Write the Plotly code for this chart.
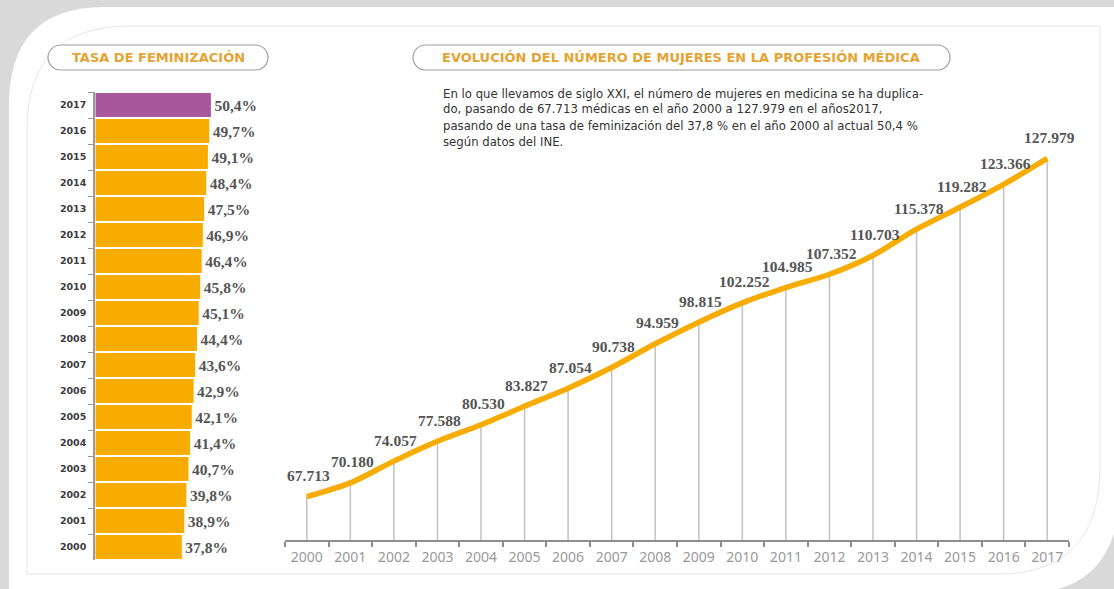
import plotly.graph_objects as go

W, H = 1114, 589

# ---------------- data ----------------
years = [str(y) for y in range(2000, 2018)]
tasa_feminizacion = [37.8, 38.9, 39.8, 40.7, 41.4, 42.1, 42.9, 43.6, 44.4, 45.1,
                     45.8, 46.4, 46.9, 47.5, 48.4, 49.1, 49.7, 50.4]
mujeres_medicas = [67713, 70180, 74057, 77588, 80530, 83827, 87054, 90738, 94959,
                   98815, 102252, 104985, 107352, 110703, 115378, 119282, 123366, 127979]

title_left = "TASA DE FEMINIZACIÓN"
title_right = "EVOLUCIÓN DEL NÚMERO DE MUJERES EN LA PROFESIÓN MÉDICA"
paragraph_lines = [
    "En lo que llevamos de siglo XXI, el número de mujeres en medicina se ha duplica-",
    "do, pasando de 67.713 médicas en el año 2000 a 127.979 en el años2017,",
    "pasando de una tasa de feminización del 37,8 % en el año 2000 al actual 50,4 %",
    "según datos del INE.",
]

ORANGE = "#F8AC00"
PURPLE = "#A8579C"
GOLD = "#E5A332"
Y_MIN, Y_MAX = 60000, 140000


def px(x):
    return x / W


def py(y):
    return 1 - y / H


def path(cmds):
    out = []
    for c in cmds:
        if isinstance(c, str):
            out.append(c)
        else:
            out.append(f"{px(c[0]):.5f},{py(c[1]):.5f}")
    return " ".join(out)


def pill(x0, y0, x1, y1):
    r = (y1 - y0) / 2
    k = 0.55 * r
    return path(["M", (x0 + r, y0), "L", (x1 - r, y0),
                 "C", (x1 - r + k, y0), (x1, y1 - r - k), (x1, y0 + r),
                 "C", (x1, y1 - r + k), (x1 - r + k, y1), (x1 - r, y1),
                 "L", (x0 + r, y1),
                 "C", (x0 + r - k, y1), (x0, y1 - r + k), (x0, y0 + r),
                 "C", (x0, y0 + r - k), (x0 + r - k, y0), (x0 + r, y0), "Z"])


fig = go.Figure()

# ---------------- left: bar chart ----------------
bar_colors = [ORANGE] * (len(years) - 1) + [PURPLE]
fig.add_trace(go.Bar(
    x=tasa_feminizacion, y=years, orientation="h",
    marker=dict(color=bar_colors, line=dict(color="white", width=1)),
    text=[f"{v:.1f}".replace(".", ",") + "%" for v in tasa_feminizacion],
    textposition="outside", textangle=0, cliponaxis=False,
    textfont=dict(family="Liberation Serif", size=15.5, color="#555555", weight="bold"),
    xaxis="x", yaxis="y", hoverinfo="skip", showlegend=False,
))

# ---------------- right: line chart ----------------
fig.add_trace(go.Scatter(
    x=years, y=mujeres_medicas, mode="markers",
    marker=dict(size=1, color="rgba(0,0,0,0)"),
    error_y=dict(type="data", symmetric=False,
                 array=[0] * len(mujeres_medicas),
                 arrayminus=[v - Y_MIN for v in mujeres_medicas],
                 color="#C4C4C4", thickness=1.6, width=0),
    xaxis="x2", yaxis="y2", hoverinfo="skip", showlegend=False,
))
fig.add_trace(go.Scatter(
    x=years, y=mujeres_medicas, mode="lines",
    line=dict(color=ORANGE, width=5.5, shape="spline", smoothing=0.8),
    xaxis="x2", yaxis="y2", hoverinfo="skip", showlegend=False,
))

annotations = []
for i, v in enumerate(mujeres_medicas):
    annotations.append(dict(
        x=i, y=v, xref="x2", yref="y2", text=f"{v:,}".replace(",", "."),
        showarrow=False, yshift=21, xshift=2,
        font=dict(family="Liberation Serif", size=15.5, color="#555555", weight="bold"),
    ))

# titles
annotations.append(dict(x=px(158), y=py(57.5), xref="paper", yref="paper",
                        xanchor="center", yanchor="middle",
                        text=title_left, showarrow=False,
                        font=dict(family="DejaVu Sans", size=13, color=GOLD, weight="bold")))
annotations.append(dict(x=px(681), y=py(57.5), xref="paper", yref="paper",
                        xanchor="center", yanchor="middle",
                        text=title_right, showarrow=False,
                        font=dict(family="DejaVu Sans", size=13, color=GOLD, weight="bold")))
for k, line in enumerate(paragraph_lines):
    annotations.append(dict(x=px(441), y=py(93 + 16 * k), xref="paper", yref="paper",
                            xanchor="left", yanchor="middle", align="left",
                            text=line, showarrow=False,
                            font=dict(family="DejaVu Sans Condensed", size=13, color="#333333")))

# ---------------- frame shapes ----------------
shapes = [
    dict(type="rect", xref="paper", yref="paper", x0=0, y0=0, x1=1, y1=1,
         fillcolor="#D9D9D9", line=dict(width=0), layer="below"),
    dict(type="path", xref="paper", yref="paper", layer="below",
         path=path(["M", (9, 600), "L", (9, 105), "Q", (9, 7), (105, 7),
                    "L", (1120, 7), "L", (1120, 505),
                    "Q", (1110, 589), (1035, 592), "Z"]),
         fillcolor="white", line=dict(width=0)),
    dict(type="path", xref="paper", yref="paper", layer="below",
         path=path(["M", (27, 574), "L", (27, 130), "Q", (27, 26), (130, 26),
                    "L", (1100, 26), "L", (1100, 470),
                    "Q", (1098, 573), (1000, 574), "Z"]),
         fillcolor="rgba(0,0,0,0)", line=dict(color="#E6E6E6", width=1)),
    dict(type="path", xref="paper", yref="paper", layer="below",
         path=pill(48, 45, 268, 70), fillcolor="white",
         line=dict(color="#A0A0A0", width=1.2)),
    dict(type="path", xref="paper", yref="paper", layer="below",
         path=pill(413, 45, 950, 70), fillcolor="white",
         line=dict(color="#A0A0A0", width=1.2)),
]

fig.update_layout(
    width=W, height=H, margin=dict(l=0, r=0, t=0, b=0),
    paper_bgcolor="white", plot_bgcolor="rgba(0,0,0,0)",
    bargap=0.04, showlegend=False,
    xaxis=dict(domain=[px(95), px(260)], range=[0, (260 - 95) / 2.31],
               visible=False, fixedrange=True),
    yaxis=dict(domain=[py(560), py(92)], type="category",
               categoryorder="array", categoryarray=years,
               range=[-0.5, len(years) - 0.5],
               showline=True, linecolor="#9A9A9A", linewidth=1.5,
               ticks="outside", tickson="boundaries", ticklen=5,
               tickcolor="#9A9A9A", tickwidth=1.3,
               showgrid=False, zeroline=False, ticklabelstandoff=5,
               tickfont=dict(family="DejaVu Sans", size=9.5, color="#3C3C3C", weight="bold")),
    xaxis2=dict(domain=[px(285), px(1069)], type="category",
                categoryorder="array", categoryarray=years,
                range=[-0.5, len(years) - 0.5], anchor="y2",
                showline=True, linecolor="#8E8E8E", linewidth=2,
                ticks="outside", tickson="boundaries", ticklen=5,
                tickcolor="#8E8E8E", tickwidth=1.5, showgrid=False,
                ticklabelstandoff=3,
                tickfont=dict(family="Noto Sans", size=14, color="#999999")),
    yaxis2=dict(domain=[py(540), py(91)], range=[Y_MIN, Y_MAX],
                visible=False, anchor="x2"),
    shapes=shapes, annotations=annotations,
)

fig.write_html("out.html", config={"displayModeBar": False},
               post_script="document.body.style.margin='0';document.body.style.overflow='hidden';")
